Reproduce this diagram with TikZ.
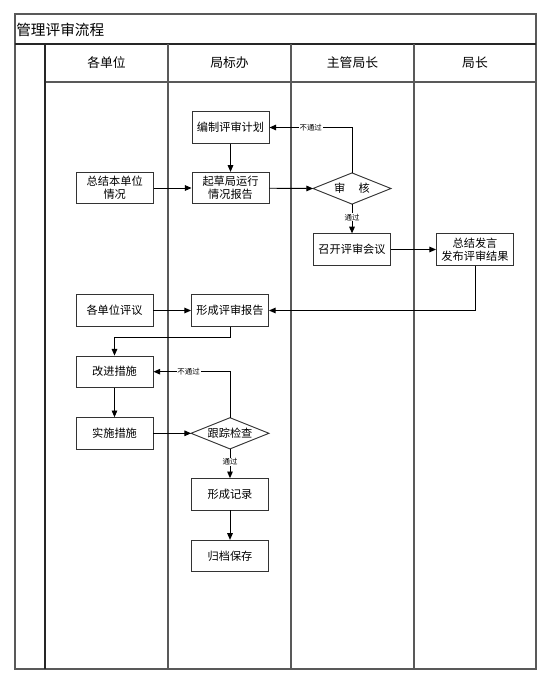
\documentclass[tikz,border=0pt]{standalone}
\usepackage{fontspec}
\setmainfont{Noto Sans CJK SC}
\usetikzlibrary{arrows.meta}
\tikzset{
  box/.style={draw=black!80, fill=white, line width=0.7pt, minimum width=57.75pt, minimum height=23.5pt, inner sep=0pt, align=center, font=\fontsize{8.4pt}{9.8pt}\selectfont},
  dia/.style={minimum width=58pt, minimum height=23pt, inner sep=0pt, align=center, font=\fontsize{8.4pt}{9.8pt}\selectfont},
  conn/.style={line width=0.7pt, -{Triangle[length=5pt,width=4.2pt]}},
  lbl/.style={fill=white, inner sep=0.6pt, font=\fontsize{5.6pt}{6pt}\selectfont},
  frame/.style={line width=0.9pt, draw=black!65},
  inner/.style={line width=0.8pt, draw=black!85},
  head/.style={font=\fontsize{9.6pt}{11pt}\selectfont}
}
\begin{document}
\begin{tikzpicture}[x=0.75pt,y=-0.75pt]
\useasboundingbox (0,0) rectangle (553,678);
% frame
\draw[frame] (15,14) rectangle (536,669);
\draw[inner] (15,44) -- (536,44);
\draw[frame] (45,82) -- (536,82);
\draw[inner] (45,44) -- (45,669);
\draw[frame] (168,44) -- (168,669);
\draw[frame] (291,44) -- (291,669);
\draw[frame] (414,44) -- (414,669);
\node[anchor=west, font=\fontsize{11pt}{12pt}\selectfont, inner sep=0pt] (title) at (16,29.5) {管理评审流程};
\node[head] (h1) at (106.5,63) {各单位};
\node[head] (h2) at (229.5,63) {局标办};
\node[head] (h3) at (352.5,63) {主管局长};
\node[head] (h4) at (475,63) {局长};
% nodes
\node[box] (bz) at (230.5,127.5) {编制评审计划};
\node[box] (qc) at (230.5,188) {起草局运行\\情况报告};
\node[box] (zj) at (114.7,188) {总结本单位\\情况};
\node[dia] (sh) at (352,188.5) {审\hspace{1.2em}核};
\draw[line width=0.7pt, draw=black!80] (sh.west) -- (sh.north) -- (sh.east) -- (sh.south) -- cycle;
\node[box] (zk) at (352,249.5) {召开评审会议};
\node[box] (fb) at (475,249.5) {总结发言\\发布评审结果};
\node[box] (gd) at (114.5,310.5) {各单位评议};
\node[box] (xc) at (230,310.5) {形成评审报告};
\node[box] (gj) at (114.5,371.7) {改进措施};
\node[box] (ss) at (114.5,433.3) {实施措施};
\node[dia] (gz) at (230,433.3) {跟踪检查};
\draw[line width=0.7pt, draw=black!80] (gz.west) -- (gz.north) -- (gz.east) -- (gz.south) -- cycle;
\node[box] (xl) at (230,494.3) {形成记录};
\node[box] (gc) at (230,556) {归档保存};
% connectors
\draw[conn] (bz) -- (qc);
\draw[conn] (zj) -- (qc);
\draw[conn] (qc) -- (sh.west);
\draw[conn] (sh.north) |- node[lbl, pos=0.75] {不通过} (bz.east);
\draw[conn] (sh.south) -- node[lbl, pos=0.45] {通过} (zk.north);
\draw[conn] (zk) -- (fb);
\draw[conn] (fb.south) |- (xc.east);
\draw[conn] (gd) -- (xc);
\draw[conn] (xc.south) -- ++(0,11) -| (gj.north);
\draw[conn] (gj) -- (ss);
\draw[conn] (ss) -- (gz.west);
\draw[conn] (gz.north) |- node[lbl, pos=0.77] {不通过} (gj.east);
\draw[conn] (gz.south) -- node[lbl, pos=0.45] {通过} (xl.north);
\draw[conn] (xl) -- (gc);
\end{tikzpicture}
\end{document}
